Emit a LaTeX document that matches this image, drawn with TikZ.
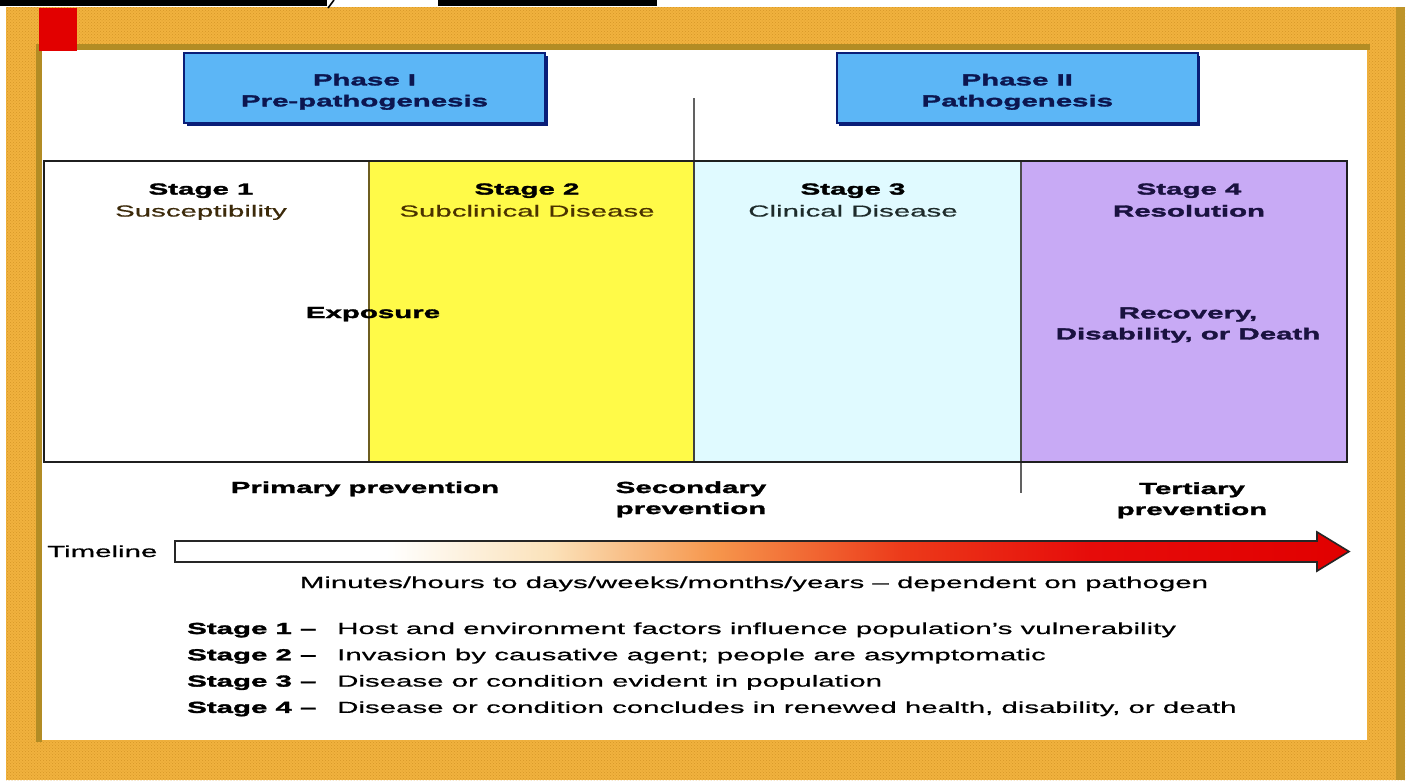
\documentclass[tikz,border=0pt]{standalone}
\usepackage{fontspec}
\setmainfont{Liberation Sans}[FakeStretch=1.84, UprightFeatures={FakeBold=0.6}, BoldFeatures={FakeBold=2}]
\usetikzlibrary{shadows,patterns}

\definecolor{frameorange}{RGB}{241,178,62}
\definecolor{framedot}{RGB}{214,150,40}
\definecolor{frameedge}{RGB}{178,140,36}
\definecolor{phaseblue}{RGB}{92,182,246}
\definecolor{phasenavy}{RGB}{10,30,120}
\definecolor{phasetext}{RGB}{12,22,80}
\definecolor{sYellow}{RGB}{255,250,72}
\definecolor{sCyan}{RGB}{224,250,255}
\definecolor{sLav}{RGB}{200,170,245}
\definecolor{subbrown}{RGB}{60,42,10}
\definecolor{subbrownB}{RGB}{74,50,0}
\definecolor{subdark}{RGB}{30,43,43}
\definecolor{lavtext}{RGB}{26,18,64}
\definecolor{olive}{RGB}{110,94,32}
\definecolor{redsq}{RGB}{226,0,0}

\pgfdeclarehorizontalshading{timeline}{100bp}{%
  color(0bp)=(white); color(25bp)=(white); color(34bp)=(white);
  color(41bp)=(rgb,255:red,251;green,226;blue,186);
  color(48bp)=(rgb,255:red,246;green,150;blue,76);
  color(56bp)=(rgb,255:red,236;green,58;blue,26);
  color(64bp)=(rgb,255:red,230;green,12;blue,10);
  color(75bp)=(rgb,255:red,225;green,0;blue,0);
  color(100bp)=(rgb,255:red,225;green,0;blue,0)}

\begin{document}
\begin{tikzpicture}[x=1pt,y=-1pt,
  txt/.style={inner sep=0pt, font=\fontsize{16}{21}\selectfont, align=center},
  colbox/.style={inner sep=0pt, minimum width=#1, minimum height=301pt, draw=none, anchor=north west},
  phasebox/.style={draw=phasenavy, line width=1.6pt, fill=phaseblue,
    minimum width=361pt, minimum height=70pt, inner sep=0pt,
    drop shadow={shadow xshift=2.5pt, shadow yshift=-3pt, fill=phasenavy, opacity=1}},
  phasetxt/.style={txt, anchor=north, text=phasetext, font=\fontsize{16}{21}\selectfont\bfseries},
  divider/.style={line width=1.8pt},
  tick/.style={line width=1.5pt, draw=black!62},
]
\useasboundingbox (0,0) rectangle (1411,780);
\fill[white] (0,0) rectangle (1411,780);

% ---- textured frame ----
\fill[frameorange] (6,7) rectangle (1405,780);
\fill[pattern=crosshatch dots, pattern color=framedot] (6,7) rectangle (1405,780);
\fill[frameedge] (36,44) rectangle (1370,50);
\fill[frameedge] (36,44) rectangle (42,742);
\fill[frameedge!80!frameorange] (1396,7) rectangle (1405,780);
\fill[white] (42,50) rectangle (1367,740);
\fill[redsq] (39,8) rectangle (77,51);

% ---- black bars at top ----
\fill[black] (0,0) rectangle (327,6);
\draw[line width=1.6pt] (328,8) -- (334,0);
\fill[black] (438,0) rectangle (657,6);

% ---- phase boxes ----
\node[phasebox] (ph1) at (364.5,88) {};
\node[phasetxt] (ph1t) at (ph1.center) [yshift=-3.8pt, anchor=center] {Phase I\\Pre-pathogenesis};
\node[phasebox] (ph2) at (1017.3,88) {};
\node[phasetxt] (ph2t) at (ph2.center) [yshift=-3.8pt, anchor=center] {Phase II\\Pathogenesis};

% ---- stage columns ----
\node[colbox=325pt, fill=white]   (s1) at (44,161)  {};
\node[colbox=325pt, fill=sYellow] (s2) at (369,161) {};
\node[colbox=327pt, fill=sCyan]   (s3) at (694,161) {};
\node[colbox=326pt, fill=sLav]    (s4) at (1021,161) {};

\coordinate (ptop) at (694,98);
\coordinate (pbot) at (1021,493);
\draw[tick] (ptop) -- (s3.north west);
\draw[divider, olive] (s2.north west) -- (s2.south west);
\draw[divider, black!75] (s3.north west) -- (s3.south west);
\draw[divider, black!70] (s4.north west) -- (s4.south west);
\draw[tick] (s4.south west) -- (pbot);
\draw[line width=2pt, black!88] (s1.north west) rectangle (s4.south east);

% ---- stage labels ----
\node[txt, anchor=north] (l1) at (201,183.2)  {\bfseries Stage 1\\[1pt]\color{subbrown}Susceptibility};
\node[txt, anchor=north] (l2) at (527,183.2)  {\bfseries Stage 2\\[1pt]\color{subbrownB}Subclinical Disease};
\node[txt, anchor=north] (l3) at (853,183.2)  {\bfseries Stage 3\\[1pt]\color{subdark}Clinical Disease};
\node[txt, anchor=north, text=lavtext] (l4) at (1189,183.2) {\bfseries Stage 4\\[1pt]\bfseries Resolution};

\node[txt, anchor=base] (expo) at (373,318) {\bfseries Exposure};
\node[txt, anchor=north, text=lavtext] (reco) at (1188,307.2) {\bfseries Recovery,\\\bfseries Disability, or Death};

% ---- prevention labels ----
\node[txt, anchor=base] (prim) at (365,493) {\bfseries Primary prevention};
\node[txt, anchor=north] (seco) at (691,481.2) {\bfseries Secondary\\\bfseries prevention};
\node[txt, anchor=north] (tert) at (1192,482.2) {\bfseries Tertiary\\\bfseries prevention};

% ---- timeline ----
\node[txt, anchor=base west] (tl) at (47,557) {Timeline};
\coordinate (a0) at (175,541);
\coordinate (a1) at (1317,541);
\coordinate (a2) at (1317,532);
\coordinate (a3) at (1349,551.5);
\coordinate (a4) at (1317,571);
\coordinate (a5) at (1317,562);
\coordinate (a6) at (175,562);
\shade[shading=timeline, draw=black!85, line width=1.6pt, line join=miter]
  (a0) -- (a1) -- (a2) -- (a3) -- (a4) -- (a5) -- (a6) -- cycle;
\node[txt, anchor=base] (dur) at (754,588) {Minutes/hours to days/weeks/months/years – dependent on pathogen};

% ---- stage list ----
\foreach \i/\d [count=\k from 0] in {1/Host and environment factors influence population’s vulnerability,
  2/Invasion by causative agent; people are asymptomatic,
  3/Disease or condition evident in population,
  4/{Disease or condition concludes in renewed health, disability, or death}}{
  \node[txt, anchor=base west] (st\i) at (187,634+26.3*\k) {\bfseries Stage \i\ –};
  \node[txt, anchor=base west] (de\i) at (337,634+26.3*\k) {\d};
}
\end{tikzpicture}
\end{document}
